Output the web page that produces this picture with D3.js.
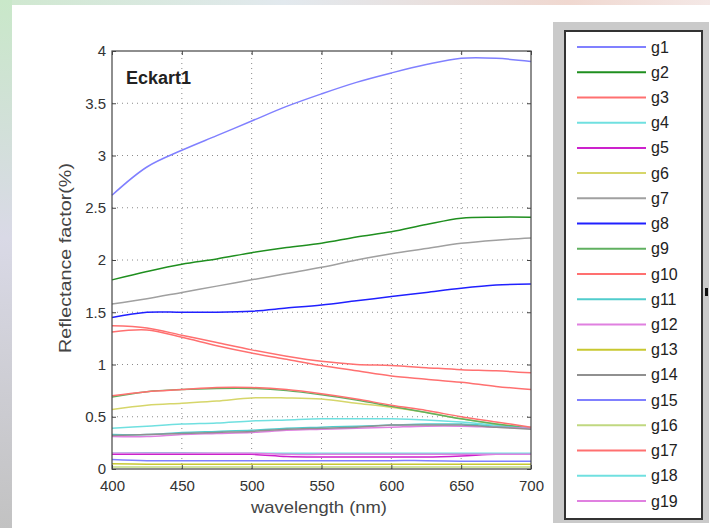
<!DOCTYPE html>
<html>
<head>
<meta charset="utf-8">
<script src="https://cdn.jsdelivr.net/npm/d3@7"></script>
<style>
  body { margin: 0; background: #fff; }
  text { font-family: "Liberation Sans", Arial, sans-serif; }
</style>
</head>
<body>
<svg id="chart" width="710" height="528"></svg>
<script>
var wavelengths = [400, 425, 450, 475, 500, 525, 550, 575, 600, 625, 650, 675, 700];

// reflectance factor (%) per group
var g1  = [2.62, 2.89, 3.05, 3.19, 3.33, 3.47, 3.59, 3.70, 3.79, 3.87, 3.93, 3.93, 3.90];
var g2  = [1.81, 1.89, 1.96, 2.01, 2.07, 2.12, 2.16, 2.22, 2.27, 2.34, 2.40, 2.41, 2.41];
var g3  = [1.37, 1.35, 1.28, 1.21, 1.14, 1.08, 1.03, 1.00, 0.99, 0.97, 0.95, 0.94, 0.92];
var g4  = [0.39, 0.41, 0.43, 0.44, 0.46, 0.47, 0.48, 0.48, 0.48, 0.47, 0.45, 0.42, 0.40];
var g5  = [0.14, 0.14, 0.14, 0.14, 0.14, 0.12, 0.115, 0.115, 0.115, 0.115, 0.125, 0.14, 0.14];
var g6  = [0.57, 0.61, 0.63, 0.65, 0.68, 0.68, 0.67, 0.63, 0.59, 0.54, 0.48, 0.43, 0.39];
var g7  = [1.58, 1.63, 1.69, 1.75, 1.81, 1.87, 1.93, 2.00, 2.06, 2.11, 2.16, 2.19, 2.21];
var g8  = [1.45, 1.50, 1.50, 1.50, 1.51, 1.54, 1.57, 1.61, 1.65, 1.69, 1.73, 1.76, 1.77];
var g9  = [0.69, 0.74, 0.76, 0.77, 0.77, 0.75, 0.71, 0.66, 0.60, 0.54, 0.48, 0.43, 0.39];
var g10 = [1.31, 1.33, 1.26, 1.18, 1.11, 1.05, 0.99, 0.94, 0.89, 0.86, 0.83, 0.79, 0.76];
var g11 = [0.33, 0.33, 0.35, 0.36, 0.37, 0.39, 0.40, 0.41, 0.42, 0.43, 0.43, 0.41, 0.39];
var g12 = [0.31, 0.31, 0.33, 0.34, 0.35, 0.37, 0.38, 0.39, 0.40, 0.41, 0.41, 0.40, 0.39];
var g13 = [0.05, 0.045, 0.045, 0.045, 0.045, 0.045, 0.045, 0.045, 0.045, 0.045, 0.045, 0.045, 0.045];
var g14 = [0.32, 0.33, 0.34, 0.35, 0.36, 0.38, 0.39, 0.40, 0.42, 0.42, 0.42, 0.40, 0.38];
var g15 = [0.09, 0.08, 0.08, 0.08, 0.08, 0.08, 0.08, 0.08, 0.08, 0.08, 0.075, 0.075, 0.075];
var g16 = [0.02, 0.02, 0.02, 0.02, 0.02, 0.02, 0.02, 0.02, 0.02, 0.02, 0.02, 0.02, 0.02];
var g17 = [0.70, 0.74, 0.76, 0.78, 0.78, 0.76, 0.72, 0.67, 0.61, 0.56, 0.50, 0.45, 0.40];
var g18 = [0.15, 0.155, 0.155, 0.15, 0.15, 0.15, 0.15, 0.15, 0.15, 0.15, 0.15, 0.15, 0.15];
var g19 = [0.15, 0.15, 0.15, 0.15, 0.15, 0.14, 0.14, 0.14, 0.14, 0.14, 0.14, 0.14, 0.14];

var seriesNames  = ["g1","g2","g3","g4","g5","g6","g7","g8","g9","g10",
                    "g11","g12","g13","g14","g15","g16","g17","g18","g19"];
var seriesValues = [g1,g2,g3,g4,g5,g6,g7,g8,g9,g10,g11,g12,g13,g14,g15,g16,g17,g18,g19];

var xTicks = [400, 450, 500, 550, 600, 650, 700];
var yTicks = [0, 0.5, 1, 1.5, 2, 2.5, 3, 3.5, 4];
var chartTitle = "Eckart1";

// matlab-ish colour cycle, washed out like the screenshot
var seriesColors = ["#8080ff","#1f8f1f","#ff7070","#70e0e0","#cc22cc","#d6d66a","#a0a0a0",
                    "#2020ff","#60b060","#ff7070","#50cccc","#e080e0","#c8c830","#909090",
                    "#8080ff","#c0d880","#ff7070","#70e0e0","#e080e0"];

var svg = d3.select("#chart");

/******************** background frame ********************/
var defs = svg.append("defs");
var gl = defs.append("linearGradient").attr("id", "leftGrad")
    .attr("x1", 0).attr("y1", 0).attr("x2", 0).attr("y2", 1);
gl.append("stop").attr("offset", "0%").attr("stop-color", "#c9e8c9");
gl.append("stop").attr("offset", "45%").attr("stop-color", "#d9d9e6");
gl.append("stop").attr("offset", "100%").attr("stop-color", "#c2c2c2");
var gt = defs.append("linearGradient").attr("id", "topGrad")
    .attr("x1", 0).attr("y1", 0).attr("x2", 1).attr("y2", 0);
gt.append("stop").attr("offset", "0%").attr("stop-color", "#cfe8cf");
gt.append("stop").attr("offset", "40%").attr("stop-color", "#e2e9ee");
gt.append("stop").attr("offset", "80%").attr("stop-color", "#f0d8d0");
gt.append("stop").attr("offset", "100%").attr("stop-color", "#f4e8e6");

svg.append("rect").attr("width", 710).attr("height", 528).attr("fill", "#fff");
svg.append("rect").attr("x", 0).attr("y", 0).attr("width", 710).attr("height", 5)
    .attr("fill", "url(#topGrad)");
svg.append("rect").attr("x", 0).attr("y", 0).attr("width", 12).attr("height", 528)
    .attr("fill", "url(#leftGrad)");

/******************** axes ********************/
var x = d3.scaleLinear().domain([400, 700]).range([112, 531]);
var y = d3.scaleLinear().domain([0, 4]).range([469, 51]);

var plot = svg.append("g");

// dotted grid
plot.selectAll("line.gx").data(xTicks.slice(1, -1)).enter().append("line")
    .attr("class", "gx")
    .attr("x1", function(d) { return x(d); }).attr("x2", function(d) { return x(d); })
    .attr("y1", y(0)).attr("y2", y(4))
    .attr("stroke", "#8a8a8a").attr("stroke-width", 1).attr("stroke-dasharray", "1,4");
plot.selectAll("line.gy").data(yTicks.slice(1, -1)).enter().append("line")
    .attr("class", "gy")
    .attr("y1", function(d) { return y(d); }).attr("y2", function(d) { return y(d); })
    .attr("x1", x(400)).attr("x2", x(700))
    .attr("stroke", "#8a8a8a").attr("stroke-width", 1).attr("stroke-dasharray", "1,4");

// curves
var line = d3.line()
    .x(function(d) { return x(d[0]); })
    .y(function(d) { return y(d[1]); })
    .curve(d3.curveCatmullRom.alpha(0.5));

plot.selectAll("path.curve").data(seriesValues).enter().append("path")
    .attr("class", "curve")
    .attr("d", function(vals) { return line(vals.map(function(v, i) { return [wavelengths[i], v]; })); })
    .attr("fill", "none")
    .attr("stroke", function(d, i) { return seriesColors[i]; })
    .attr("stroke-width", 1.5);

function styleAxis(g) {
    g.select(".domain").remove();
    g.selectAll(".tick line").attr("stroke", "#444");
    g.selectAll(".tick text").attr("fill", "#333").style("font-size", "15px")
        .style("font-family", "'Liberation Sans', Arial, sans-serif");
}

svg.append("g").attr("transform", "translate(112,0)")
    .call(d3.axisLeft(y).tickValues(yTicks).tickSize(-4).tickPadding(6)
          .tickFormat(d3.format("")))
    .call(styleAxis);
svg.append("g").attr("transform", "translate(531,0)")
    .call(d3.axisRight(y).tickValues(yTicks).tickSize(-4).tickFormat(""))
    .call(styleAxis);
svg.append("g").attr("transform", "translate(0,469)")
    .call(d3.axisBottom(x).tickValues(xTicks).tickSize(-4).tickPadding(11))
    .call(styleAxis);
svg.append("g").attr("transform", "translate(0,51)")
    .call(d3.axisTop(x).tickValues(xTicks).tickSize(-4).tickFormat(""))
    .call(styleAxis);

// box
svg.append("rect").attr("x", 112).attr("y", 51).attr("width", 419).attr("height", 418)
    .attr("fill", "none").attr("stroke", "#444").attr("stroke-width", 1.2);

svg.append("text").attr("x", 126).attr("y", 84)
    .attr("font-size", 18).attr("font-weight", "bold").attr("fill", "#222")
    .text(chartTitle);

svg.append("text").attr("x", 319).attr("y", 513)
    .attr("text-anchor", "middle").attr("font-size", 17).attr("fill", "#444")
    .attr("textLength", 136).attr("lengthAdjust", "spacingAndGlyphs")
    .text("wavelength (nm)");

svg.append("text").attr("transform", "translate(71,258) rotate(-90)")
    .attr("text-anchor", "middle").attr("font-size", 17).attr("fill", "#444")
    .attr("textLength", 190).attr("lengthAdjust", "spacingAndGlyphs")
    .text("Reflectance factor(%)");

/******************** legend ********************/
svg.append("rect").attr("x", 553).attr("y", 22).attr("width", 156).attr("height", 501)
    .attr("fill", "#cacaca");
svg.append("rect").attr("x", 565).attr("y", 31).attr("width", 137).attr("height", 488)
    .attr("fill", "#fff").attr("stroke", "#333").attr("stroke-width", 2);
svg.append("rect").attr("x", 705).attr("y", 288).attr("width", 3).attr("height", 8)
    .attr("fill", "#111");

var ly = d3.scaleLinear().domain([0, seriesNames.length - 1]).range([47, 501]);
var leg = svg.selectAll("g.leg").data(seriesNames).enter().append("g")
    .attr("class", "leg")
    .attr("transform", function(d, i) { return "translate(0," + ly(i) + ")"; });
leg.append("line").attr("x1", 577).attr("x2", 646)
    .attr("stroke", function(d, i) { return seriesColors[i]; })
    .attr("stroke-width", 2);
leg.append("text").attr("x", 651).attr("dy", "0.35em")
    .attr("font-size", 16).attr("fill", "#222")
    .text(function(d) { return d; });
</script>
</body>
</html>
